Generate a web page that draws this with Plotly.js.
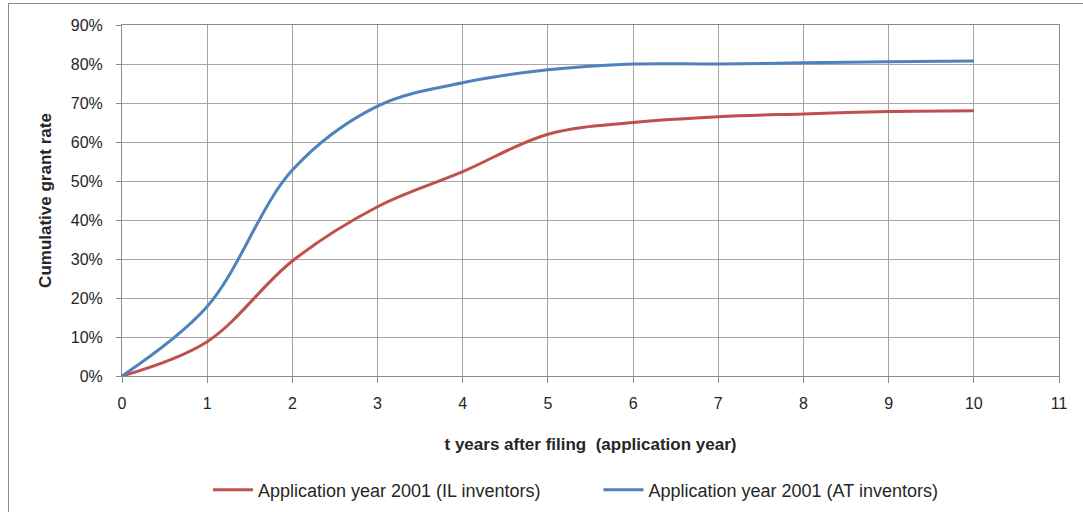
<!DOCTYPE html>
<html><head><meta charset="utf-8">
<script src="https://cdn.plot.ly/plotly-3.0.1.min.js"></script>
<style>html,body{margin:0;padding:0;background:#fff;}#chart{width:1083px;height:512px;}
#frame{position:absolute;left:8px;top:3px;right:0;bottom:0;border-left:1px solid #8c8c8c;border-top:1px solid #8c8c8c;pointer-events:none;}</style>
</head><body>
<div id="chart"></div><div id="frame"></div>
<script>
const years = [0,1,2,3,4,5,6,7,8,9,10];
const ilRate = [0,0.088,0.295,0.434,0.524,0.620,0.650,0.665,0.672,0.678,0.680];
const atRate = [0,0.178,0.528,0.692,0.752,0.785,0.800,0.800,0.803,0.806,0.808];
const ilName = 'Application year 2001 (IL inventors)';
const atName = 'Application year 2001 (AT inventors)';
const xTicks = [0,1,2,3,4,5,6,7,8,9,10,11];
const yTicks = [0,0.1,0.2,0.3,0.4,0.5,0.6,0.7,0.8,0.9];

const font = "Liberation Sans, Arial, sans-serif";
const traces = [
  {x: years, y: ilRate, name: ilName, legend:'legend', mode:'lines', line:{color:'#C0504D', width:3, shape:'spline', smoothing:1}},
  {x: years, y: atRate, name: atName, legend:'legend2', mode:'lines', line:{color:'#4F81BD', width:3, shape:'spline', smoothing:1}}
];
const legBase = {orientation:'h', xanchor:'left', yanchor:'middle', y:-0.325, font:{size:18, color:'#262626'}, itemwidth:40, bgcolor:'rgba(0,0,0,0)'};
const layout = {
  width:1083, height:512,
  margin:{l:122, r:24, t:25, b:136, autoexpand:false},
  paper_bgcolor:'#fff', plot_bgcolor:'#fff',
  font:{family:font, size:16, color:'#262626'},
  showlegend:true,
  legend:Object.assign({}, legBase, {x:0.0917}),
  legend2:Object.assign({}, legBase, {x:0.5085}),
  xaxis:{range:[0,11], tickvals:xTicks, ticktext:xTicks.map(String), showgrid:true, gridcolor:'#a6a6a6', gridwidth:1, automargin:false,
         zeroline:false, showline:true, linecolor:'#8c8c8c', linewidth:1, mirror:true, ticks:'outside', ticklen:6, tickcolor:'#8c8c8c',
         ticklabelstandoff:7, tickfont:{size:16},
         title:{text:'<b>t years after filing  (application year)</b>', font:{size:17}, standoff:26}},
  yaxis:{range:[0,0.9], tickvals:yTicks, ticktext:yTicks.map(v=>Math.round(v*100)+'%'), showgrid:true, gridcolor:'#a6a6a6', gridwidth:1, automargin:false,
         zeroline:false, showline:true, linecolor:'#8c8c8c', linewidth:1, mirror:true, ticks:'outside', ticklen:5, tickcolor:'#8c8c8c',
         ticklabelstandoff:10, tickfont:{size:16},
         title:{text:'<b>Cumulative grant rate</b>', font:{size:17}, standoff:14}}
};
Plotly.newPlot('chart', traces, layout, {displayModeBar:false, staticPlot:true});
</script>
</body></html>
